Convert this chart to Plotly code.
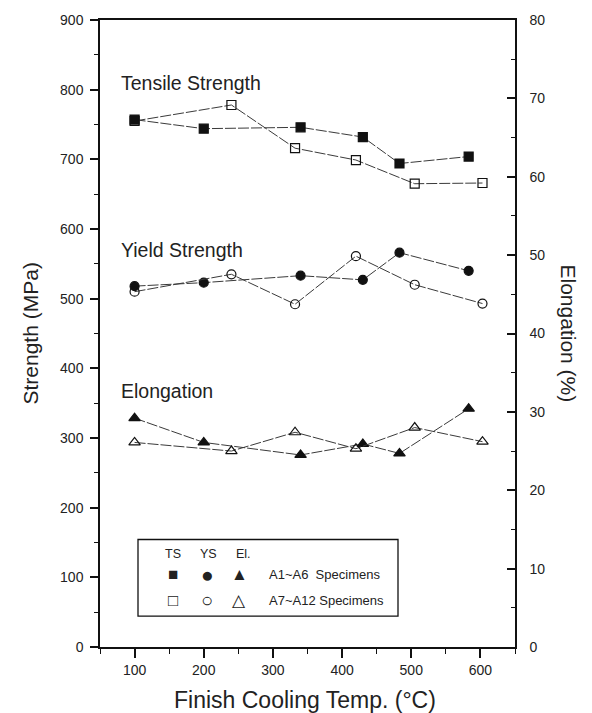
import plotly.graph_objects as go

# ---------------- data ----------------
temp_a1_a6 = [100, 200, 340, 430, 483, 583]
temp_a7_a12 = [100, 240, 332, 420, 505, 603]

ts_a1_a6 = [757, 744, 746, 732, 694, 704]
ts_a7_a12 = [755, 778, 716, 699, 665, 666]

ys_a1_a6 = [518, 523, 533, 527, 566, 540]
ys_a7_a12 = [510, 535, 492, 561, 520, 493]

el_a1_a6 = [29.2, 26.1, 24.5, 25.9, 24.7, 30.4]
el_a7_a12 = [26.1, 25.0, 27.4, 25.3, 28.0, 26.2]

x_ticks = [100, 200, 300, 400, 500, 600]
y_ticks = [0, 100, 200, 300, 400, 500, 600, 700, 800, 900]
y2_ticks = [0, 10, 20, 30, 40, 50, 60, 70, 80]

FONT = "Liberation Sans, Arial, Helvetica, sans-serif"
LINE = dict(color="#3a3a3a", width=1, dash="11px,2px")

fig = go.Figure()

def add(x, y, symbol, yaxis="y", size=9):
    fig.add_trace(go.Scatter(
        x=x, y=y, mode="lines+markers", yaxis=yaxis, showlegend=False,
        line=LINE,
        marker=dict(symbol=symbol, size=size, color="#111111",
                    line=dict(color="#111111", width=1.2)),
    ))

add(temp_a7_a12, ts_a7_a12, "square-open")
add(temp_a1_a6, ts_a1_a6, "square")
add(temp_a1_a6, ys_a1_a6, "circle")
add(temp_a7_a12, ys_a7_a12, "circle-open")
add(temp_a1_a6, el_a1_a6, "triangle-up", "y2", 10)
add(temp_a7_a12, el_a7_a12, "triangle-up-open", "y2", 10)

axis_common = dict(
    showgrid=False, zeroline=False, showline=True, linecolor="#111111",
    linewidth=1.5, tickcolor="#111111", tickwidth=1.5,
    tickfont=dict(family=FONT, size=14, color="#222222"),
)

fig.update_layout(
    width=592, height=713,
    margin=dict(l=100, r=77, t=17, b=66),
    paper_bgcolor="white", plot_bgcolor="white",
    font=dict(family=FONT, color="#222222"),
    xaxis=dict(
        range=[50, 650], tickvals=x_ticks, ticks="outside", ticklen=9,
        minor=dict(dtick=50, tick0=0, ticks="outside", ticklen=5,
                   tickcolor="#111111", tickwidth=1.2),
        mirror=True, **axis_common,
    ),
    yaxis=dict(
        range=[0, 900], tickvals=y_ticks, ticks="outside", ticklen=8,
        minor=dict(dtick=50, tick0=0, ticks="outside", ticklen=4,
                   tickcolor="#111111", tickwidth=1.2),
        ticklabelstandoff=4, **axis_common,
    ),
    yaxis2=dict(
        range=[0, 80], tickvals=y2_ticks, overlaying="y", side="right",
        ticks="inside", ticklen=8,
        minor=dict(dtick=5, tick0=0, ticks="inside", ticklen=4,
                   tickcolor="#111111", tickwidth=1.2),
        ticklabelstandoff=10, **axis_common,
    ),
)

annos = []
def txt(x, y, s, size=17, xanchor="left", angle=0, xref="paper", yref="paper"):
    annos.append(dict(x=x, y=y, xref=xref, yref=yref, text=s, showarrow=False,
                      xanchor=xanchor, yanchor="middle", textangle=angle,
                      font=dict(family=FONT, size=size, color="#222222")))

# pixel -> paper helpers (layout only)
W, H = 592, 713
L, R, T, B = 100, 77, 17, 66
def px(xp):
    return (xp - L) / (W - L - R)
def py(yp):
    return 1 - (yp - T) / (H - T - B)

txt(px(119), py(80), "Tensile Strength", size=19.5)
txt(px(119), py(248), "Yield Strength", size=19.5)
txt(px(119), py(390), "Elongation", size=19.5)

# axis titles
txt(px(305), py(700), "Finish Cooling Temp. (°C)", size=23, xanchor="center")
txt(px(30), py(332), "Strength (MPa)", size=21, xanchor="center", angle=-90)
txt(px(568), py(332), "Elongation (%)", size=21, xanchor="center", angle=90)

# legend box
fig.add_shape(type="rect", xref="paper", yref="paper",
              x0=px(138), x1=px(398), y0=py(616), y1=py(539),
              line=dict(color="#111111", width=1.3), fillcolor="white")
for xx, s in [(173, "TS"), (208, "YS"), (243, "El.")]:
    txt(px(xx), py(554), s, size=12.5, xanchor="center")
for xx, s, sz in [(173, "■", 17), (207, "●", 21), (239, "▲", 17)]:
    txt(px(xx), py(574), s, size=sz, xanchor="center")
for xx, s, sz in [(173, "□", 17), (207, "○", 20), (239, "△", 17)]:
    txt(px(xx), py(600), s, size=sz, xanchor="center")
txt(px(267), py(574), "A1~A6  Specimens", size=13)
txt(px(267), py(600), "A7~A12 Specimens", size=13)

fig.update_layout(annotations=annos)
fig.write_html("out.html")
